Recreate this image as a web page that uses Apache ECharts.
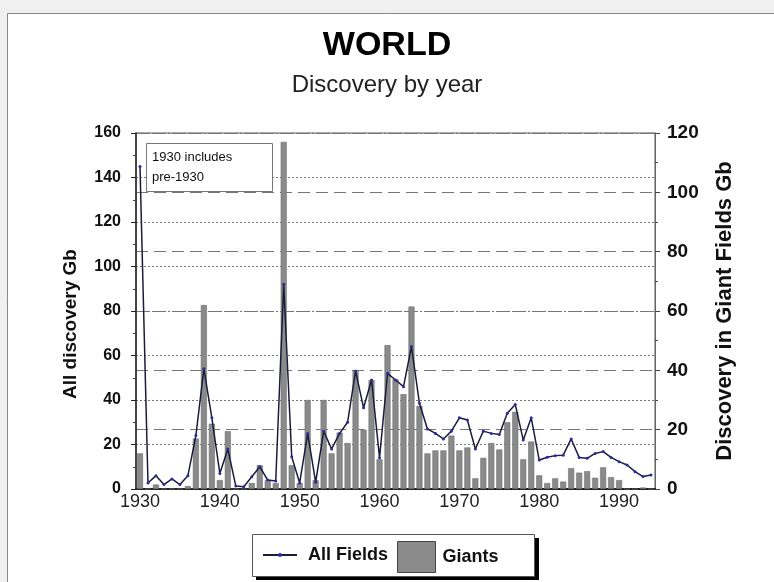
<!DOCTYPE html>
<html>
<head>
<meta charset="utf-8">
<script src="https://cdn.jsdelivr.net/npm/echarts@6/dist/echarts.min.js"></script>
<style>
html,body{margin:0;padding:0;background:#f0f0f0;}
#c{width:774px;height:582px;}
</style>
</head>
<body>
<div id="c"></div>
<script>
var years = ['1930','1931','1932','1933','1934','1935','1936','1937','1938','1939',
 '1940','1941','1942','1943','1944','1945','1946','1947','1948','1949',
 '1950','1951','1952','1953','1954','1955','1956','1957','1958','1959',
 '1960','1961','1962','1963','1964','1965','1966','1967','1968','1969',
 '1970','1971','1972','1973','1974','1975','1976','1977','1978','1979',
 '1980','1981','1982','1983','1984','1985','1986','1987','1988','1989',
 '1990','1991','1992','1993','1994'];
var allFields = [145,2.7,6,2,4.5,2,6,24,54,32,
 7,18,1.3,1,5.5,10,4,3.6,92,14.5,
 2.7,25,3,26,18,25,30,53,36.5,49,
 14,52,49,46,64,38.5,27,25,22.5,26,
 32,31,18,26,25,24.5,34,38,22,32,
 13,14.3,15,15.2,22.5,14.2,13.8,16,16.8,14.2,
 12.3,10.8,7.8,5.6,6.3];
var giants = [12,0,1.5,0,0,0,1,17,62,22,
 3,19.5,0,0,2,8,3,2,117,8,
 2,30,3,30,12,19,15.5,40,20,36.7,
 10,48.5,37,32,61.5,28,12,13,13,18,
 13,14,3.6,10.5,15.5,13.3,22.5,26,10,16,
 4.6,2,3.6,2.5,7,5.5,6,3.8,7.3,4,
 3,0,0,0.5,0];
var leftTicks = [0,160,20];
var rightTicks = [0,120,20];

var FF = "'Liberation Sans', Arial, sans-serif";
var chart = echarts.init(document.getElementById('c'));
chart.setOption({
  backgroundColor: '#f0f0f0',
  animation: false,
  title: [
    {text: 'WORLD', left: 'center', top: 24, textStyle: {fontFamily: FF, fontSize: 34, fontWeight: 'bold', color: '#000'}},
    {text: 'Discovery by year', left: 'center', top: 68, textStyle: {fontFamily: FF, fontSize: 24, fontWeight: 'normal', color: '#222'}}
  ],
  graphic: [
    {type: 'rect', z: -10, shape: {x: 7.5, y: 13.5, width: 800, height: 600}, style: {fill: '#fff', stroke: '#888', lineWidth: 1}},
    {type: 'rect', z: 10, shape: {x: 146.5, y: 143.5, width: 126, height: 48}, style: {fill: '#fff', stroke: '#777', lineWidth: 1}},
    {type: 'text', z: 11, left: 152, top: 147, style: {text: '1930 includes\npre-1930', font: '13px ' + FF, fill: '#111', lineHeight: 20}},
    {type: 'rect', z: 1, shape: {x: 256, y: 538, width: 283, height: 42}, style: {fill: '#000'}},
    {type: 'rect', z: 2, shape: {x: 252.5, y: 534.5, width: 282, height: 42}, style: {fill: '#fff', stroke: '#555', lineWidth: 1}}
  ],
  legend: [
    {data: ['All Fields'], left: 262, top: 546, padding: 0, itemWidth: 34, itemHeight: 5, z: 5,
     textStyle: {fontFamily: FF, fontSize: 18, fontWeight: 'bold', color: '#111', padding: [0, 0, 0, 6]}},
    {data: [{name: 'Giants', icon: 'rect'}], left: 397, top: 541, padding: 0, itemWidth: 38, itemHeight: 31, z: 5,
     itemStyle: {borderColor: '#444', borderWidth: 1},
     textStyle: {fontFamily: FF, fontSize: 18, fontWeight: 'bold', color: '#111', padding: [0, 0, 0, 2]}}
  ],
  grid: {left: 136, right: 119, top: 133, bottom: 93, show: true, borderColor: '#555', borderWidth: 1},
  xAxis: [
    {type: 'category', data: years, boundaryGap: true,
     axisLine: {lineStyle: {color: '#222', width: 1.5}},
     axisTick: {show: false},
     axisLabel: {interval: function (i, v) { return (+v) % 10 === 0; }, fontFamily: FF, fontSize: 18, color: '#222', margin: 4}},
    {type: 'category', data: years, position: 'top', boundaryGap: true,
     axisLine: {lineStyle: {color: '#222', width: 2}},
     axisTick: {show: false}, axisLabel: {show: false}, splitLine: {show: false}}
  ],
  yAxis: [
    {type: 'value', min: leftTicks[0], max: leftTicks[1], interval: leftTicks[2], position: 'left',
     name: 'All discovery Gb', nameLocation: 'middle', nameRotate: 90, nameGap: 56,
     nameTextStyle: {fontFamily: FF, fontSize: 19, fontWeight: 'bold', color: '#111', padding: [0, 26, 0, 0]},
     axisLine: {show: true, lineStyle: {color: '#222', width: 1.5}},
     axisTick: {show: true, length: 5, lineStyle: {color: '#222'}},
     minorTick: {show: true, splitNumber: 2, length: 3, lineStyle: {color: '#444'}},
     axisLabel: {fontFamily: FF, fontSize: 16, fontWeight: 'bold', color: '#111', margin: 15},
     splitLine: {show: true, lineStyle: {color: '#777', type: [2, 2], width: 1}}},
    {type: 'value', min: rightTicks[0], max: rightTicks[1], interval: rightTicks[2], position: 'right',
     name: 'Discovery in Giant Fields Gb', nameLocation: 'middle', nameRotate: 90, nameGap: 59,
     nameTextStyle: {fontFamily: FF, fontSize: 22, fontWeight: 'bold', color: '#111', verticalAlign: 'top'},
     axisLine: {show: true, lineStyle: {color: '#666', width: 1}},
     axisTick: {show: true, length: 5, lineStyle: {color: '#444'}},
     minorTick: {show: true, splitNumber: 2, length: 3, lineStyle: {color: '#444'}},
     axisLabel: {fontFamily: FF, fontSize: 19, fontWeight: 'bold', color: '#111', margin: 12},
     splitLine: {show: true, lineStyle: {color: '#777', type: [12, 6], width: 1}}}
  ],
  series: [
    {name: 'Giants', type: 'bar', yAxisIndex: 1, data: giants, barWidth: 6, z: 2,
     itemStyle: {color: '#8a8a8a', borderColor: '#666', borderWidth: 0.5}},
    {name: 'All Fields', type: 'line', yAxisIndex: 0, data: allFields, z: 3,
     symbol: 'circle', symbolSize: 3, showSymbol: true,
     lineStyle: {color: '#1b1b3c', width: 1.5},
     itemStyle: {color: '#2a2aa8'}}
  ]
});
</script>
</body>
</html>
